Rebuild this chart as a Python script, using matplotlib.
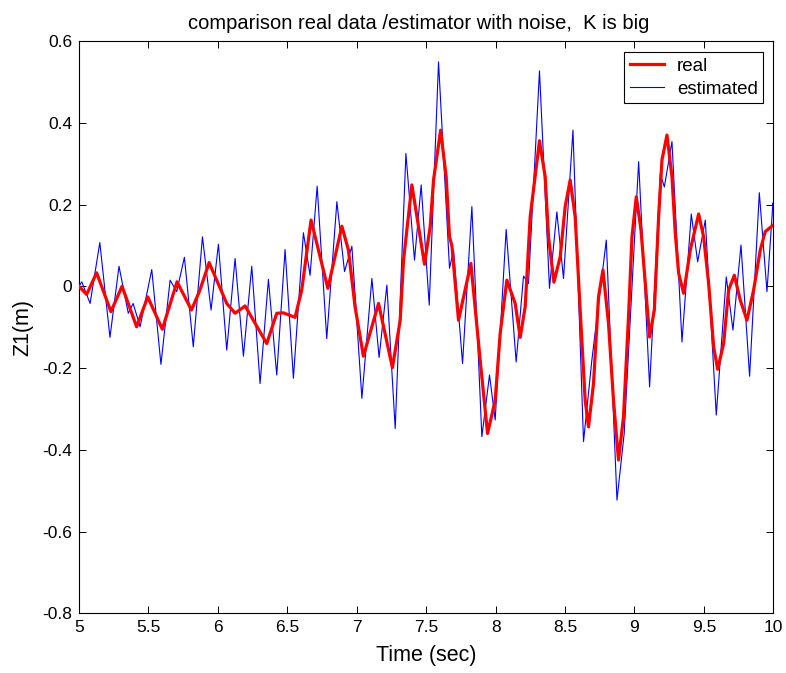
import numpy as np
import matplotlib
matplotlib.use('Agg')
import matplotlib.pyplot as plt

plt.rcParams['font.family'] = ['Liberation Sans', 'DejaVu Sans']

#############################
# Data
#############################

# real signal (thick red line)
t_real = [5.0, 5.055, 5.127, 5.23, 5.31, 5.415, 5.495, 5.60, 5.706, 5.81, 5.87,
          5.937, 6.064, 6.124, 6.196, 6.352, 6.424, 6.472, 6.556, 6.604, 6.671,
          6.748, 6.792, 6.893, 6.94, 6.988, 7.048, 7.157, 7.257, 7.313, 7.337,
          7.397, 7.445, 7.488, 7.529, 7.553, 7.604, 7.644, 7.668, 7.685, 7.733,
          7.822, 7.889, 7.942, 7.997, 8.033, 8.081, 8.141, 8.177, 8.213, 8.249,
          8.316, 8.357, 8.381, 8.42, 8.465, 8.501, 8.537, 8.573, 8.609, 8.645,
          8.669, 8.705, 8.741, 8.773, 8.813, 8.849, 8.885, 8.921, 8.957, 8.982,
          9.013, 9.047, 9.078, 9.109, 9.143, 9.174, 9.198, 9.234, 9.27, 9.294,
          9.318, 9.354, 9.402, 9.462, 9.498, 9.534, 9.57, 9.599, 9.642, 9.678,
          9.719, 9.762, 9.81, 9.858, 9.906, 9.942, 10.0]
z_real = [0.0, -0.02, 0.033, -0.062, 0.0, -0.099, -0.026, -0.105, 0.011, -0.058, -0.01,
          0.058, -0.042, -0.066, -0.048, -0.14, -0.066, -0.065, -0.076, -0.009, 0.162,
          0.056, -0.005, 0.147, 0.089, -0.05, -0.171, -0.042, -0.199, -0.083, 0.064,
          0.248, 0.146, 0.054, 0.146, 0.26, 0.382, 0.268, 0.121, 0.10, -0.083,
          0.056, -0.181, -0.36, -0.279, -0.115, 0.015, -0.042, -0.125, -0.05, 0.170,
          0.356, 0.268, 0.121, 0.01, 0.072, 0.195, 0.26, 0.17, -0.058, -0.279,
          -0.344, -0.238, -0.026, 0.04, -0.091, -0.279, -0.425, -0.319, -0.075, 0.121,
          0.219, 0.138, 0.007, -0.124, -0.058, 0.17, 0.309, 0.37, 0.268, 0.129,
          0.032, -0.017, 0.089, 0.177, 0.121, 0.007, -0.148, -0.203, -0.14, -0.009,
          0.027, -0.034, -0.083, -0.009, 0.089, 0.134, 0.15]

# estimated signal (thin blue line), peaks and troughs
t_est = [5.0, 5.02, 5.08, 5.15, 5.223, 5.288, 5.355, 5.39, 5.44, 5.524, 5.59,
         5.656, 5.704, 5.759, 5.823, 5.889, 5.951, 6.004, 6.064, 6.124, 6.184,
         6.244, 6.304, 6.364, 6.424, 6.484, 6.544, 6.616, 6.664, 6.715, 6.784,
         6.857, 6.912, 6.965, 7.037, 7.109, 7.161, 7.217, 7.277, 7.354, 7.416,
         7.464, 7.522, 7.589, 7.668, 7.697, 7.762, 7.829, 7.901, 7.956, 7.997,
         8.076, 8.148, 8.201, 8.237, 8.316, 8.388, 8.441, 8.489, 8.557, 8.633,
         8.693, 8.797, 8.874, 8.926, 9.03, 9.109, 9.186, 9.215, 9.27, 9.342,
         9.409, 9.455, 9.51, 9.589, 9.661, 9.709, 9.767, 9.829, 9.899, 9.954,
         9.997, 10.0]
z_est = [0.0, 0.011, -0.042, 0.107, -0.125, 0.049, -0.066, -0.042, -0.099, 0.041, -0.191,
         0.015, -0.013, 0.071, -0.148, 0.121, -0.058, 0.103, -0.156, 0.068, -0.171,
         0.049, -0.238, 0.017, -0.217, 0.090, -0.225, 0.131, 0.027, 0.245, -0.128,
         0.207, 0.036, 0.098, -0.274, 0.019, -0.174, 0.003, -0.348, 0.325, 0.064,
         0.248, -0.046, 0.549, 0.044, 0.089, -0.189, 0.195, -0.368, -0.217, -0.327,
         0.139, -0.185, 0.025, 0.007, 0.527, -0.005, 0.182, 0.019, 0.382, -0.38,
         -0.181, 0.113, -0.523, -0.36, 0.305, -0.246, 0.276, 0.243, 0.354, -0.136,
         0.177, 0.06, 0.162, -0.315, 0.023, -0.107, 0.101, -0.22, 0.229, -0.013,
         0.204, 0.2]

x_ticks = [5, 5.5, 6, 6.5, 7, 7.5, 8, 8.5, 9, 9.5, 10]
x_ticklabels = ['5', '5.5', '6', '6.5', '7', '7.5', '8', '8.5', '9', '9.5', '10']
y_ticks = [-0.8, -0.6, -0.4, -0.2, 0, 0.2, 0.4, 0.6]
y_ticklabels = ['-0.8', '-0.6', '-0.4', '-0.2', '0', '0.2', '0.4', '0.6']

#############################
# Figure
#############################

fig = plt.figure(figsize=(7.86, 6.73), dpi=100)
ax = fig.add_axes([0.1005, 0.0887, 0.8834, 0.8503])

ax.plot(t_real, z_real, color='#ff0000', lw=2.3, label='real', zorder=3,
        solid_joinstyle='round')
ax.plot(t_est, z_est, color='#0000ff', lw=0.8, label='estimated', zorder=2,
        solid_joinstyle='round')

ax.set_xlim(5, 10)
ax.set_ylim(-0.8, 0.6)
ax.set_xticks(x_ticks)
ax.set_xticklabels(x_ticklabels)
ax.set_yticks(y_ticks)
ax.set_yticklabels(y_ticklabels)
ax.tick_params(direction='in', length=5, width=0.7, labelsize=12.5,
               top=True, right=True, pad=5)
for sp in ax.spines.values():
    sp.set_linewidth(0.8)

ax.set_title('comparison real data /estimator with noise,  K is big', fontsize=14.5,
             pad=9, x=0.489)
ax.set_xlabel('Time (sec)', fontsize=15.5, labelpad=7)
ax.set_ylabel('Z1(m)', fontsize=15.5, labelpad=6)

leg = ax.legend(loc='upper right', fontsize=13.5, frameon=True, fancybox=False,
                edgecolor='black', framealpha=1, handlelength=1.8,
                handletextpad=0.7, borderpad=0.3, labelspacing=0.3,
                borderaxespad=0, bbox_to_anchor=(0.9856, 0.9808))
leg.get_frame().set_linewidth(0.8)

fig.savefig('out.png', dpi=100)
